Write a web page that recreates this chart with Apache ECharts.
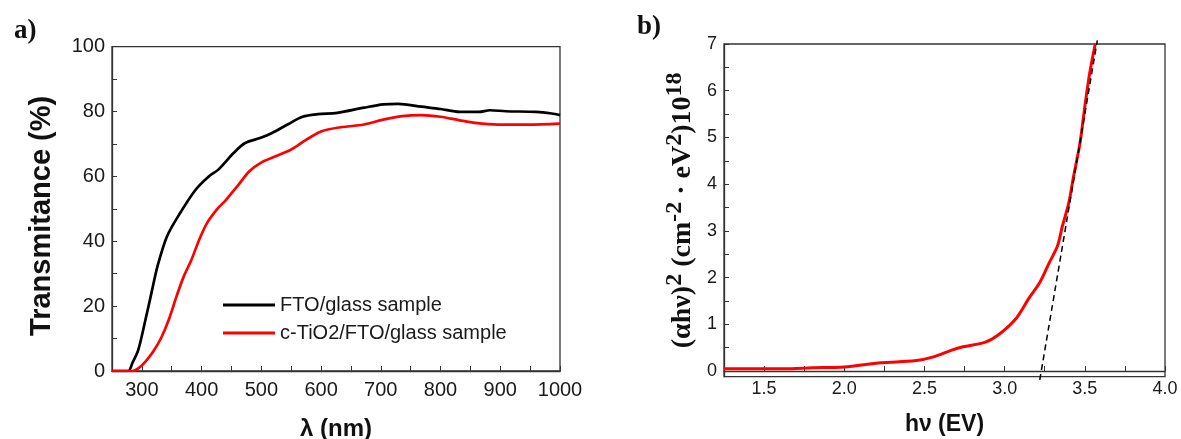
<!DOCTYPE html>
<html>
<head>
<meta charset="utf-8">
<script src="https://cdn.jsdelivr.net/npm/echarts@6/dist/echarts.min.js"></script>
<style>
html,body{margin:0;padding:0;background:#fff;}
#chart{width:1181px;height:439px;}
</style>
</head>
<body>
<div id="chart"></div>
<script>
// ---- Panel a: transmittance spectra ----
const ftoWavelength = [250, 277, 284, 294, 306, 316, 326, 342, 364, 390, 412, 428, 454, 473, 499, 518, 544, 569, 595, 627, 672, 704, 729, 768, 800, 832, 864, 883, 909, 960, 986, 1000];
const ftoT          = [0,   0,   2.4, 6.5, 15.8, 24, 32.2, 41.5, 48.7, 55.9, 60, 62.1, 67.3, 70.3, 71.9, 73.4, 76, 78.4, 79.2, 79.6, 81.2, 82.2, 82.4, 81.5, 80.8, 79.9, 79.9, 80.4, 80.1, 79.9, 79.4, 78.9];
const tio2Wavelength = [250, 284, 294, 306, 319, 332, 345, 358, 370, 383, 396, 409, 425, 441, 460, 480, 499, 524, 550, 576, 601, 627, 672, 704, 736, 768, 800, 832, 858, 896, 947, 1000];
const tio2T          = [0,   0,   0.8, 2.9, 6,   10.1, 15.8, 23, 29.1, 34.3, 40.5, 45.6, 49.7, 52.8, 57, 61.6, 64.2, 66.2, 68.3, 71.4, 73.9, 75, 76, 77.5, 78.6, 78.9, 78.4, 77.3, 76.5, 76, 76, 76.3];
const aXTicks = [300, 400, 500, 600, 700, 800, 900, 1000];
const aYTicks = [0, 20, 40, 60, 80, 100];
const legendNames = ['FTO/glass sample', 'c-TiO2/FTO/glass sample'];

// ---- Panel b: Tauc plot ----
const energy = [1.25, 1.4, 1.62, 1.8, 2.0, 2.23, 2.44, 2.55, 2.67, 2.74, 2.88, 2.97, 3.07, 3.15, 3.22, 3.28, 3.33, 3.36, 3.40, 3.43, 3.47, 3.50, 3.53, 3.565];
const ahv2   = [0.05, 0.05, 0.05, 0.07, 0.09, 0.18, 0.22, 0.3, 0.45, 0.52, 0.62, 0.8, 1.12, 1.55, 1.9, 2.33, 2.68, 3.1, 3.6, 4.17, 4.88, 5.66, 6.37, 7.0];
const tangentE = [3.219, 3.578];
const tangentY = [-0.19, 7.08];
const bXTicks = [1.5, 2.0, 2.5, 3.0, 3.5, 4.0];
const bYTicks = [0, 1, 2, 3, 4, 5, 6, 7];

const sans = "'Liberation Sans', Arial, sans-serif";
const serif = "'Liberation Serif', 'Times New Roman', serif";
const axisColor = '#333';
const labelColor = '#1a1a1a';

const zip = (xs, ys) => xs.map((x, i) => [x, ys[i]]);

const chart = echarts.init(document.getElementById('chart'), null, {renderer: 'canvas'});

const option = {
  backgroundColor: '#fff',
  animation: false,
  title: [
    {text: 'a)', left: 9, top: 13, textStyle: {fontFamily: serif, fontWeight: 'bold', fontSize: 27, color: '#111'}},
    {text: 'b)', left: 632, top: 9, textStyle: {fontFamily: serif, fontWeight: 'bold', fontSize: 27, color: '#111'}}
  ],
  legend: {
    data: legendNames,
    orient: 'vertical',
    left: 218,
    top: 290,
    icon: 'rect',
    itemWidth: 52,
    itemHeight: 3,
    itemGap: 8,
    textStyle: {fontFamily: sans, fontSize: 20, color: labelColor}
  },
  grid: [
    {left: 112, right: 621, top: 46.7, bottom: 68, show: true, borderColor: axisColor, borderWidth: 1.3, containLabel: false, outerBoundsMode: 'none'},
    {left: 724, right: 16, top: 44, bottom: 62.3, show: true, borderColor: axisColor, borderWidth: 1.3, containLabel: false, outerBoundsMode: 'none'}
  ],
  xAxis: [
    {
      type: 'value', gridIndex: 0, min: 250, max: 1000, interval: 50,
      name: 'λ (nm)', nameLocation: 'middle', nameGap: 46,
      nameTextStyle: {fontFamily: sans, fontWeight: 'bold', fontSize: 24, color: '#111'},
      axisLine: {show: true, lineStyle: {color: axisColor, width: 1.3}},
      axisTick: {show: true, inside: true, length: 5, lineStyle: {color: axisColor}},
      splitLine: {show: false},
      axisLabel: {
        margin: 9, fontFamily: sans, fontSize: 20, color: labelColor,
        showMinLabel: true, showMaxLabel: true,
        formatter: v => aXTicks.indexOf(v) >= 0 ? String(v) : ''
      }
    },
    {
      type: 'value', gridIndex: 1, min: 1.25, max: 4.0, interval: 0.25,
      name: 'hν (EV)', nameLocation: 'middle', nameGap: 36,
      nameTextStyle: {fontFamily: sans, fontWeight: 'bold', fontSize: 23, color: '#111'},
      axisLine: {show: true, lineStyle: {color: axisColor, width: 1.3}},
      axisTick: {show: true, inside: true, length: 5, lineStyle: {color: axisColor}},
      splitLine: {show: false},
      axisLabel: {
        margin: 3, fontFamily: sans, fontSize: 18, color: labelColor,
        showMinLabel: true, showMaxLabel: true,
        formatter: v => bXTicks.some(t => Math.abs(t - v) < 1e-6) ? v.toFixed(1) : ''
      }
    }
  ],
  yAxis: [
    {
      type: 'value', gridIndex: 0, min: 0, max: 100, interval: 10,
      name: 'Transmitance (%)', nameLocation: 'middle', nameGap: 56, nameRotate: 90,
      nameTextStyle: {fontFamily: sans, fontWeight: 'bold', fontSize: 29, color: '#111', padding: [0, 14, 0, 0]},
      axisLine: {show: true, lineStyle: {color: axisColor, width: 1.3}},
      axisTick: {show: true, inside: true, length: 5, lineStyle: {color: axisColor}},
      splitLine: {show: false},
      axisLabel: {
        margin: 7, fontFamily: sans, fontSize: 20, color: labelColor,
        formatter: v => aYTicks.indexOf(v) >= 0 ? String(v) : ''
      }
    },
    {
      type: 'value', gridIndex: 1, min: -0.12, max: 7,
      name: '{b|(αhν)}{s|2}{b| (cm}{s|-2}{b| · eV}{s|2}{b|)10}{s|18}',
      nameLocation: 'middle', nameGap: 27, nameRotate: 90,
      nameTextStyle: {
        fontFamily: serif, fontWeight: 'bold', fontSize: 28, color: '#111',
        rich: {
          b: {fontFamily: serif, fontWeight: 'bold', fontSize: 28, color: '#111', verticalAlign: 'bottom', lineHeight: 34},
          s: {fontFamily: serif, fontWeight: 'bold', fontSize: 24, color: '#111', verticalAlign: 'top', lineHeight: 34}
        }
      },
      axisLine: {show: true, lineStyle: {color: axisColor, width: 1.3}},
      axisTick: {show: true, inside: true, length: 5, lineStyle: {color: axisColor},
        customValues: [0, 0.5, 1, 1.5, 2, 2.5, 3, 3.5, 4, 4.5, 5, 5.5, 6, 6.5, 7]},
      splitLine: {show: false},
      axisLabel: {
        margin: 7, fontFamily: sans, fontSize: 18, color: labelColor,
        customValues: bYTicks,
        formatter: v => String(Math.round(v))
      }
    }
  ],
  series: [
    {
      name: legendNames[0], type: 'line', xAxisIndex: 0, yAxisIndex: 0,
      data: zip(ftoWavelength, ftoT), showSymbol: false, symbol: 'none',
      smooth: 0.3,
      lineStyle: {color: '#000', width: 2.7}, itemStyle: {color: '#000'}
    },
    {
      name: legendNames[1], type: 'line', xAxisIndex: 0, yAxisIndex: 0,
      data: zip(tio2Wavelength, tio2T), showSymbol: false, symbol: 'none',
      smooth: 0.3,
      lineStyle: {color: '#ff0000', width: 2.7}, itemStyle: {color: '#ff0000'}
    },
    {
      name: 'Tauc', type: 'line', xAxisIndex: 1, yAxisIndex: 1,
      data: zip(energy, ahv2), showSymbol: false, symbol: 'none',
      smooth: 0.3,
      lineStyle: {color: '#ff0000', width: 3}, itemStyle: {color: '#ff0000'}
    },
    {
      name: 'Tangent', type: 'line', xAxisIndex: 1, yAxisIndex: 1,
      data: zip(tangentE, tangentY), showSymbol: false, symbol: 'none', clip: false,
      lineStyle: {color: '#000', width: 1.5, type: [6, 4]}, itemStyle: {color: '#000'}
    }
  ]
};
chart.setOption(option);
</script>
</body>
</html>
